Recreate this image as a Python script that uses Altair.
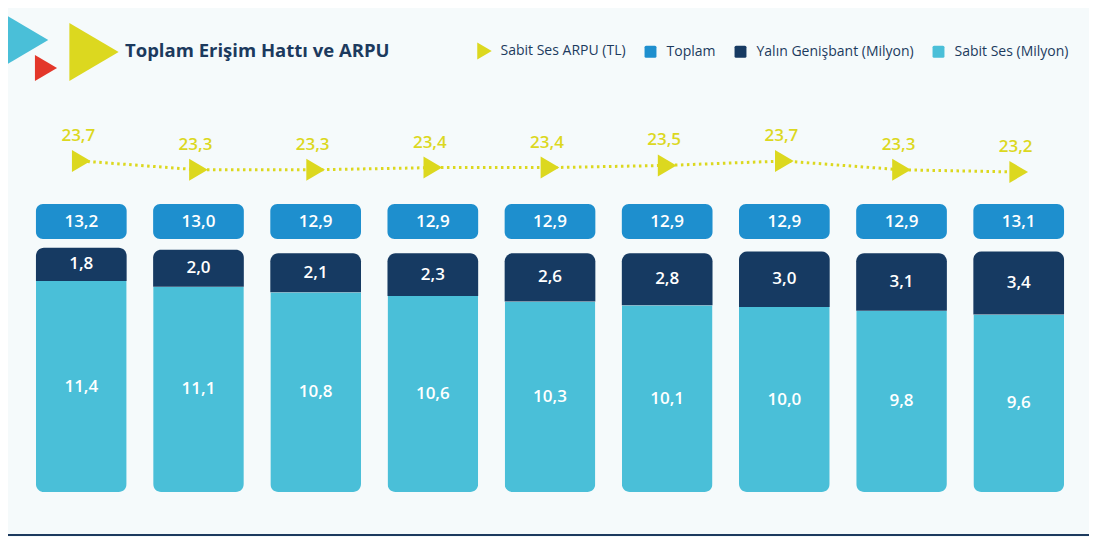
import altair as alt
import pandas as pd

# ---------------- data ----------------
quarters = ["4Ç’14", "1Ç’15", "2Ç’15", "3Ç’15", "4Ç’15", "1Ç’16", "2Ç’16", "3Ç’16", "4Ç’16"]
sabit_ses = [11.4, 11.1, 10.8, 10.6, 10.3, 10.1, 10.0, 9.8, 9.6]
yalin_genisbant = [1.8, 2.0, 2.1, 2.3, 2.6, 2.8, 3.0, 3.1, 3.4]
toplam = [13.2, 13.0, 12.9, 12.9, 12.9, 12.9, 12.9, 12.9, 13.1]
arpu = [23.7, 23.3, 23.3, 23.4, 23.4, 23.5, 23.7, 23.3, 23.2]

legend_series = ["Sabit Ses ARPU (TL)", "Toplam", "Yalın Genişbant (Milyon)", "Sabit Ses (Milyon)"]
TITLE = "Toplam Erişim Hattı ve ARPU"

# ---------------- style ----------------
CYAN = "#4abfd8"
NAVY = "#163a62"
BLUE = "#1e8fce"
YELLOW = "#dcd81f"
RED = "#e3372a"
TEXT = "#1c3a5e"
BG = "#f5fafb"
FONT = "Open Sans"
TRI = "M-0.85,-1L0.85,0L-0.85,1Z"
SQ = ("M-0.52,-0.7L0.52,-0.7Q0.7,-0.7 0.7,-0.52L0.7,0.52Q0.7,0.7 0.52,0.7"
      "L-0.52,0.7Q-0.7,0.7 -0.7,0.52L-0.7,-0.52Q-0.7,-0.7 -0.52,-0.7Z")

W, H = 1052, 392
PX_PER_UNIT = 18.5
BAR_DOMAIN = [0, H / PX_PER_UNIT]
ARPU_DOMAIN = [8.655, 26.473]

df = pd.DataFrame({"q": quarters, "sabit": sabit_ses, "yalin": yalin_genisbant,
                   "toplam": toplam, "arpu": arpu})

base = alt.Chart(df).transform_calculate(
    top="datum.sabit + datum.yalin",
    sabit_mid="datum.sabit / 2",
    yalin_mid="datum.sabit + datum.yalin / 2",
    sabit_lbl="replace(format(datum.sabit, '.1f'), '.', ',')",
    yalin_lbl="replace(format(datum.yalin, '.1f'), '.', ',')",
    toplam_lbl="replace(format(datum.toplam, '.1f'), '.', ',')",
    arpu_lbl="replace(format(datum.arpu, '.1f'), '.', ',')",
)

x = alt.X("q:N", sort=quarters,
          scale=alt.Scale(paddingInner=0.226, paddingOuter=0.102),
          axis=alt.Axis(title=None, domain=False, ticks=False, labelPadding=20,
                        labelFontSize=15, labelColor=TEXT, labelFont=FONT,
                        labelAngle=0, labelFontWeight=500))
xs = alt.X("q:N", sort=quarters, axis=None)
ybar = alt.Scale(domain=BAR_DOMAIN, nice=False, zero=False)
yarpu = alt.Scale(domain=ARPU_DOMAIN, nice=False, zero=False)

sabit_bar = base.mark_bar(color=CYAN, cornerRadiusBottomLeft=8, cornerRadiusBottomRight=8).encode(
    x=x, y=alt.Y("sabit:Q", scale=ybar, axis=None))
yalin_bar = base.mark_bar(color=NAVY, cornerRadiusTopLeft=8, cornerRadiusTopRight=8).encode(
    x=xs, y=alt.Y("top:Q", scale=ybar, axis=None), y2="sabit:Q")
toplam_box = base.mark_bar(color=BLUE, cornerRadius=7).encode(
    x=xs, y=alt.value(104), y2=alt.value(139))

txt = dict(color="white", font=FONT, fontSize=17, fontWeight=600, baseline="middle", align="center")
sabit_txt = base.mark_text(**txt).encode(x=xs, y=alt.Y("sabit_mid:Q", scale=ybar, axis=None), text="sabit_lbl:N")
yalin_txt = base.mark_text(**txt).encode(x=xs, y=alt.Y("yalin_mid:Q", scale=ybar, axis=None), text="yalin_lbl:N")
toplam_txt = base.mark_text(**txt).encode(x=xs, y=alt.value(121.5), text="toplam_lbl:N")

arpu_line = base.mark_line(color=YELLOW, strokeDash=[2.5, 3.5], strokeWidth=3).encode(
    x=xs, y=alt.Y("arpu:Q", scale=yarpu, axis=None))
arpu_pts = base.mark_point(shape=TRI, filled=True, size=484, opacity=1, color=YELLOW).encode(
    x=xs, y=alt.Y("arpu:Q", scale=yarpu, axis=None))
arpu_txt = base.mark_text(color=YELLOW, font=FONT, fontSize=17, fontWeight=600,
                          baseline="middle", align="center", dy=-25, dx=-3).encode(
    x=xs, y=alt.Y("arpu:Q", scale=yarpu, axis=None), text="arpu_lbl:N")

# legend (real Vega-Lite legend from an invisible layer)
leg_df = pd.DataFrame({"series": legend_series})
leg_kw = dict(title=None, orient="none", legendX=452, legendY=-57.5, direction="horizontal",
              labelFont=FONT, labelFontSize=14, labelColor=TEXT, symbolSize=289,
              symbolOpacity=1, symbolStrokeWidth=0, labelOffset=7.5, columnPadding=16, padding=0)
legend_layer = alt.Chart(leg_df).mark_point(filled=True, opacity=0).encode(
    color=alt.Color("series:N", scale=alt.Scale(domain=legend_series,
                                                range=[YELLOW, BLUE, NAVY, CYAN]),
                    legend=alt.Legend(**leg_kw)),
    shape=alt.Shape("series:N", scale=alt.Scale(domain=legend_series, range=[TRI, SQ, SQ, SQ]),
                    legend=alt.Legend(**leg_kw)),
)

one = pd.DataFrame({"t": [TITLE]})
title_txt = alt.Chart(one).mark_text(font=FONT, fontSize=18.5, fontWeight="bold", color=TEXT,
                                     align="left", baseline="middle").encode(
    x=alt.value(101), y=alt.value(-49), text="t:N")

deco_cyan = alt.Chart(one).mark_point(shape=TRI, filled=True, size=2500, opacity=1, color=CYAN).encode(
    x=alt.value(3), y=alt.value(-60))
deco_red = alt.Chart(one).mark_point(shape=TRI, filled=True, size=676, opacity=1, color=RED).encode(
    x=alt.value(22), y=alt.value(-32))
deco_yel = alt.Chart(one).mark_point(shape=TRI, filled=True, size=3364, opacity=1, color=YELLOW).encode(
    x=alt.value(70), y=alt.value(-48))

bottom_rule = alt.Chart(one).mark_rule(color=TEXT, strokeWidth=2).encode(
    x=alt.value(-16), x2=alt.value(1065), y=alt.value(435))

chart = alt.layer(
    sabit_bar, yalin_bar, toplam_box, sabit_txt, yalin_txt, toplam_txt,
    arpu_line, arpu_pts, arpu_txt, legend_layer, title_txt,
    deco_cyan, deco_red, deco_yel, bottom_rule,
).resolve_scale(y="independent").properties(
    width=W, height=H,
    padding={"left": 16, "top": 92, "right": 13, "bottom": 45},
    autosize=alt.AutoSizeParams(type="none"),
    background=BG,
).configure_view(stroke=None)

chart.save("out.html", embed_options={"renderer": "svg", "actions": False})
